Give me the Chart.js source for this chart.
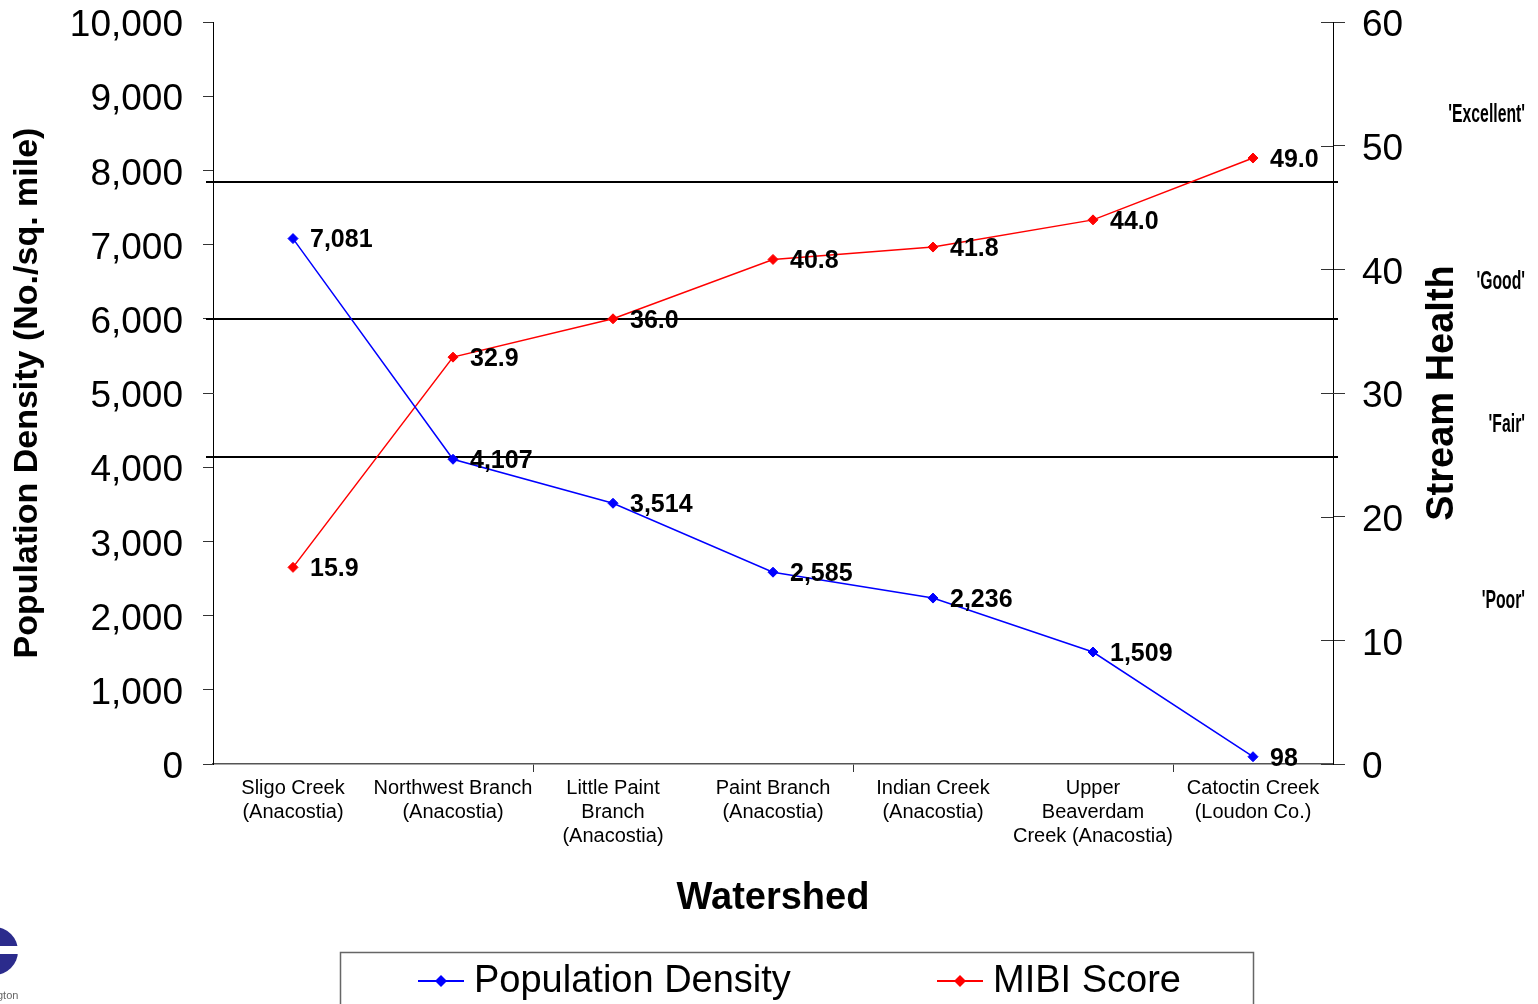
<!DOCTYPE html>
<html>
<head>
<meta charset="utf-8">
<title>Population Density vs Stream Health</title>
<script src="https://cdn.jsdelivr.net/npm/chart.js@4/dist/chart.umd.min.js"></script>
<style>
    html, body { margin: 0; padding: 0; background: #fff; }
    #wrap { position: relative; width: 1538px; height: 1004px; }
</style>
</head>
<body>
<div id="wrap"><canvas id="chart"></canvas></div>
<script>
// Datos del grafico
const watersheds = [
    ['Sligo Creek', '(Anacostia)'],
    ['Northwest Branch', '(Anacostia)'],
    ['Little Paint', 'Branch', '(Anacostia)'],
    ['Paint Branch', '(Anacostia)'],
    ['Indian Creek', '(Anacostia)'],
    ['Upper', 'Beaverdam', 'Creek (Anacostia)'],
    ['Catoctin Creek', '(Loudon Co.)']
];
const popDensity = [7081, 4107, 3514, 2585, 2236, 1509, 98];
const mibiScore = [15.9, 32.9, 36.0, 40.8, 41.8, 44.0, 49.0];

// Limites de las clases de salud (eje derecho) y sus etiquetas
const ratingBounds = [47.1, 36.0, 24.8];
const ratingNames = ["'Excellent'", "'Good'", "'Fair'", "'Poor'"];
const ratingAt = [52.5, 39.0, 27.4, 13.2];

const FONT = "'Liberation Sans', Arial, sans-serif";
const fmtDensity = v => v.toLocaleString('en-US');
const fmtScore = v => v.toFixed(1);

const overlay = {
    id: 'overlay',
    beforeDatasetsDraw(chart) {
        const { ctx, chartArea } = chart;
        const y1 = chart.scales.y1;
        ctx.save();
        ctx.strokeStyle = '#000';
        ctx.lineWidth = 2;
        for (const b of ratingBounds) {
            const y = Math.round(y1.getPixelForValue(b));
            ctx.beginPath();
            ctx.moveTo(chartArea.left - 7, y);
            ctx.lineTo(chartArea.right + 5, y);
            ctx.stroke();
        }
        // marcas del eje derecho que cruzan hacia dentro
        ctx.lineWidth = 1;
        ctx.strokeStyle = '#333';
        for (const t of y1.ticks) {
            const y = Math.round(y1.getPixelForValue(t.value)) + 0.5;
            ctx.beginPath();
            ctx.moveTo(chartArea.right - 12, y);
            ctx.lineTo(chartArea.right, y);
            ctx.stroke();
        }
        ctx.restore();
    },
    afterDatasetsDraw(chart) {
        const { ctx } = chart;
        ctx.save();
        ctx.font = 'bold 25px ' + FONT;
        ctx.fillStyle = '#000';
        ctx.textAlign = 'left';
        ctx.textBaseline = 'middle';
        chart.data.datasets.forEach((ds, i) => {
            const fmt = i === 0 ? fmtDensity : fmtScore;
            chart.getDatasetMeta(i).data.forEach((pt, j) => {
                ctx.fillText(fmt(ds.data[j]), pt.x + 17, pt.y + 2);
            });
        });
        ctx.restore();
    },
    afterDraw(chart) {
        const { ctx, chartArea } = chart;
        const y1 = chart.scales.y1;
        ctx.save();

        // titulo del eje derecho
        ctx.fillStyle = '#000';
        ctx.font = 'bold 38px ' + FONT;
        ctx.textAlign = 'center';
        ctx.textBaseline = 'middle';
        ctx.translate(1443, (chartArea.top + chartArea.bottom) / 2);
        ctx.rotate(-Math.PI / 2);
        ctx.fillText('Stream Health', 0, 0);
        ctx.setTransform(1, 0, 0, 1, 0, 0);

        // etiquetas de clase, estrechas
        ctx.font = 'bold 25px ' + FONT;
        ctx.textAlign = 'right';
        ratingNames.forEach((name, i) => {
            ctx.save();
            ctx.translate(1525, y1.getPixelForValue(ratingAt[i]));
            ctx.scale(0.63, 1);
            ctx.fillText(name, 0, 0);
            ctx.restore();
        });

        // leyenda con caja
        ctx.strokeStyle = '#666';
        ctx.lineWidth = 1.5;
        ctx.strokeRect(340.5, 952.5, 913, 80);
        const itemX = [418, 937];
        ctx.font = '38px ' + FONT;
        ctx.textAlign = 'left';
        chart.data.datasets.forEach((ds, i) => {
            const x = itemX[i], y = 981;
            ctx.strokeStyle = ds.borderColor;
            ctx.fillStyle = ds.borderColor;
            ctx.lineWidth = 2;
            ctx.beginPath();
            ctx.moveTo(x, y);
            ctx.lineTo(x + 46, y);
            ctx.stroke();
            ctx.beginPath();
            ctx.moveTo(x + 23, y - 6);
            ctx.lineTo(x + 29, y);
            ctx.lineTo(x + 23, y + 6);
            ctx.lineTo(x + 17, y);
            ctx.closePath();
            ctx.fill();
            ctx.fillStyle = '#000';
            ctx.fillText(ds.label, x + 56, y + 1);
        });

        // resto del logo en la esquina
        ctx.fillStyle = '#2b2b8c';
        ctx.beginPath();
        ctx.arc(-6, 951, 24, 0, Math.PI * 2);
        ctx.fill();
        ctx.fillStyle = '#fff';
        ctx.fillRect(0, 946, 20, 8);
        ctx.fillStyle = '#666';
        ctx.font = '11px ' + FONT;
        ctx.fillText('gton', -3, 996);
        ctx.restore();
    }
};

// quitar el relleno que anaden las etiquetas, el area queda fija por layout.padding
function fixY(width) {
    return s => { s.width = width; s.paddingTop = 0; s.paddingBottom = 0; };
}

new Chart(document.getElementById('chart'), {
    type: 'line',
    data: {
        labels: watersheds,
        datasets: [
            {
                label: 'Population Density', data: popDensity, yAxisID: 'y',
                borderColor: '#0000ff', backgroundColor: '#0000ff', borderWidth: 1.5,
                pointStyle: 'rectRot', pointRadius: 5, pointBorderWidth: 1, tension: 0
            },
            {
                label: 'MIBI Score', data: mibiScore, yAxisID: 'y1',
                borderColor: '#ff0000', backgroundColor: '#ff0000', borderWidth: 1.5,
                pointStyle: 'rectRot', pointRadius: 5, pointBorderWidth: 1, tension: 0
            }
        ]
    },
    options: {
        responsive: true, maintainAspectRatio: false,
        animation: false,
        layout: { padding: { top: 22, left: 0, right: 0, bottom: 0 } },
        plugins: { legend: { display: false }, tooltip: { enabled: false } },
        scales: {
            x: {
                offset: true,
                grid: {
                    offset: true, drawOnChartArea: false, tickLength: 8,
                    tickColor: c => (c.index > 0 && c.index < watersheds.length && c.index % 2 === 0) ? '#333' : 'rgba(0,0,0,0)'
                },
                border: { color: '#555', width: 1.5 },
                ticks: { color: '#000', font: { family: FONT, size: 20 }, padding: 4, maxRotation: 0, autoSkip: false },
                title: { display: true, text: 'Watershed', color: '#000', font: { family: FONT, size: 38, weight: 'bold' }, padding: { top: 0, bottom: 83 } },
                afterFit(s) { s.height = 240; s.paddingLeft = 0; s.paddingRight = 0; }
            },
            y: {
                position: 'left', min: 0, max: 10000,
                grid: { drawOnChartArea: false, tickLength: 10, tickColor: '#333' },
                border: { color: '#000', width: 1 },
                ticks: { stepSize: 1000, color: '#000', font: { family: FONT, size: 37 }, padding: 20, labelOffset: 4, callback: v => fmtDensity(v) },
                title: { display: true, text: 'Population Density (No./sq. mile)', color: '#000', font: { family: FONT, size: 34, weight: 'bold' }, padding: { top: 7, bottom: 0 } },
                afterFit: fixY(213)
            },
            y1: {
                position: 'right', min: 0, max: 60,
                grid: { drawOnChartArea: false, tickLength: 12, tickColor: '#333' },
                border: { color: '#000', width: 1 },
                ticks: { stepSize: 10, color: '#000', font: { family: FONT, size: 37 }, padding: 17, labelOffset: 4 },
                afterFit: fixY(205)
            }
        }
    },
    plugins: [overlay]
});
</script>
</body>
</html>
